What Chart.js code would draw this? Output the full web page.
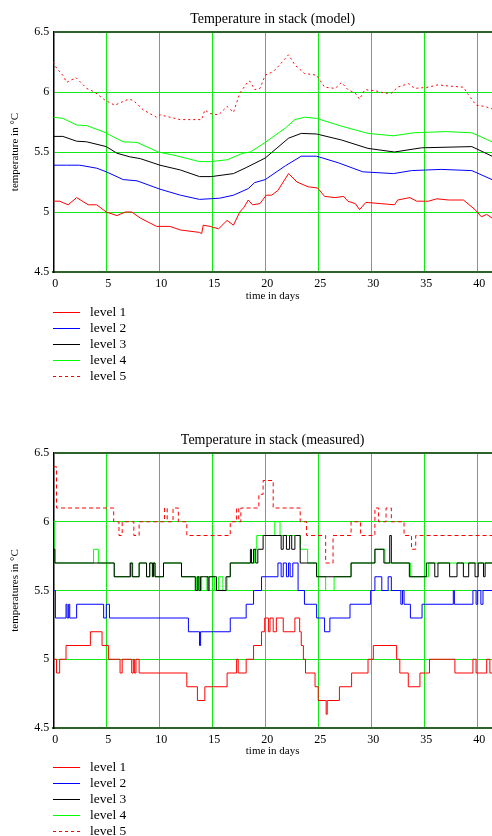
<!DOCTYPE html>
<html>
<head>
<meta charset="utf-8">
<script src="https://cdn.jsdelivr.net/npm/chart.js@4.4.1/dist/chart.umd.min.js"></script>
<style>
    body { margin: 0; background: #fff; }
    #page { position: relative; width: 492px; height: 836px; overflow: hidden; font-family: "Liberation Serif", "Times New Roman", serif; }
    #page canvas { position: absolute; left: 0; }
    .legend { position: absolute; left: 53px; font-size: 13.5px; color: #000; }
    .legend .item { position: relative; height: 16px; line-height: 16px; padding-left: 37px; white-space: nowrap; }
    .legend .sample { position: absolute; left: 0; top: 8px; width: 27px; height: 1px; }
</style>
</head>
<body>
<div id="page">
    <canvas id="modelChart" width="492" height="305" style="top:0;width:492px;height:305px"></canvas>
    <canvas id="measuredChart" width="492" height="339" style="top:421px;width:492px;height:339px"></canvas>
    <div class="legend" id="modelLegend" style="top:304px"></div>
    <div class="legend" id="measuredLegend" style="top:759px"></div>
</div>
<script>
var DAY_MAX = 41.4;
var DAY_TICKS = [0, 5, 10, 15, 20, 25, 30, 35, 40];
var TEMP_TICKS = [4.5, 5, 5.5, 6, 6.5];
var LEVEL_NAMES = ["level 1", "level 2", "level 3", "level 4", "level 5"];

// model: [day, temperature]
var model1 = [[0, 5.09], [0.6, 5.09], [1.4, 5.06], [2.2, 5.12], [3.3, 5.06], [4.1, 5.06], [5.0, 5.0], [6.0, 4.97], [6.8, 5.0], [7.4, 5.0],
    [8.2, 4.95], [9.75, 4.88], [11, 4.88], [12, 4.85], [13.8, 4.83], [14.0, 4.82], [14.15, 4.89], [14.8, 4.88], [15.6, 4.86], [16.4, 4.93],
    [17.0, 4.89], [17.6, 5.0], [18.0, 5.04], [18.4, 5.1], [18.8, 5.06], [19.5, 5.07], [20.1, 5.14], [20.6, 5.14], [21.2, 5.18], [22.2, 5.32],
    [23.0, 5.25], [24.05, 5.21], [24.95, 5.2], [25.6, 5.13], [26.6, 5.12], [27.4, 5.13], [27.8, 5.09], [28.5, 5.07], [28.9, 5.02], [29.5, 5.08],
    [30.9, 5.07], [32.2, 5.06], [32.5, 5.1], [33.65, 5.12], [34.3, 5.09], [35.4, 5.09], [36.2, 5.11], [37.3, 5.1], [38.7, 5.1], [39.8, 5.02],
    [40.4, 4.96], [40.9, 4.98], [41.4, 4.95]];
var model2 = [[0, 5.39], [1.25, 5.39], [2.5, 5.39], [4.1, 5.365], [5.0, 5.335], [6.6, 5.27], [7.9, 5.26], [10.07, 5.19], [12, 5.14], [13.8, 5.105],
    [15.7, 5.115], [17, 5.14], [18.4, 5.195], [19, 5.245], [20, 5.27], [21.9, 5.385], [23.4, 5.465], [24.85, 5.465], [26.9, 5.41], [29.2, 5.335],
    [32.1, 5.32], [33.8, 5.345], [36.6, 5.355], [39.5, 5.345], [41.4, 5.27]];
var model3 = [[0, 5.63], [0.9, 5.63], [2.2, 5.59], [3.15, 5.585], [5.0, 5.545], [6.0, 5.49], [7.2, 5.46], [8.2, 5.445], [10.07, 5.39], [12, 5.35],
    [13.8, 5.295], [14.9, 5.295], [17, 5.32], [18.2, 5.37], [20, 5.45], [22.2, 5.615], [23.4, 5.655], [24.85, 5.65], [27.2, 5.6], [29.7, 5.53],
    [32.2, 5.5], [34.75, 5.535], [39.5, 5.545], [41.4, 5.465]];
var model4 = [[0, 5.79], [0.9, 5.78], [2.2, 5.725], [3.15, 5.72], [4.7, 5.67], [6.6, 5.585], [7.9, 5.58], [9.9, 5.5], [11.3, 5.475], [12.9, 5.44],
    [13.8, 5.42], [14.8, 5.42], [16.4, 5.435], [17.9, 5.49], [18.6, 5.5], [20, 5.58], [21.9, 5.7], [22.8, 5.77], [23.7, 5.79], [24.85, 5.78],
    [27.2, 5.715], [29.7, 5.655], [32.1, 5.635], [34, 5.66], [37, 5.67], [39.5, 5.66], [41.4, 5.585]];
var model5 = [[0, 6.25], [0.3, 6.2], [0.9, 6.14], [1.26, 6.08], [2.14, 6.12], [3.15, 6.03], [3.9, 6.0], [4.9, 5.93], [5.8, 5.89], [7.1, 5.94],
    [7.55, 5.93], [8.5, 5.85], [9.75, 5.79], [10.07, 5.81], [11, 5.79], [11.95, 5.77], [12.9, 5.77], [14, 5.77], [14.3, 5.85], [14.8, 5.82],
    [15.6, 5.81], [16.4, 5.88], [17, 5.83], [17.6, 5.99], [18.4, 6.09], [18.55, 6.09], [19, 6.02], [19.5, 6.03], [20, 6.14], [20.75, 6.17],
    [21.2, 6.21], [22.2, 6.31], [22.8, 6.225], [23.7, 6.155], [24.85, 6.14], [25.6, 6.04], [26.6, 6.03], [27.2, 6.08], [27.8, 6.02], [28.5, 5.99],
    [28.9, 5.94], [29.4, 6.02], [30.4, 6.01], [31.3, 5.99], [31.9, 5.99], [32.5, 6.04], [33.5, 6.07], [34.1, 6.03], [35.4, 6.04], [36.3, 6.06],
    [37.3, 6.05], [38.7, 6.04], [39.15, 5.98], [39.9, 5.89], [40.7, 5.88], [41.4, 5.86]];

// measured: [day the reading changes, new reading]
var measured1 = [[0, 5.0], [0.3, 4.9], [0.6, 5.0], [1.2, 5.1], [3.5, 5.2], [4.6, 5.1], [5.2, 5.0], [6.3, 4.9], [6.5, 5.0], [7.4, 4.9],
    [7.55, 5.0], [7.65, 4.9], [7.8, 5.0], [8.1, 4.9], [12.6, 4.8], [13.6, 4.7], [14.3, 4.8], [16.4, 4.9], [17.3, 5.0], [17.45, 4.9],
    [18.2, 5.0], [18.9, 5.1], [19.65, 5.2], [19.95, 5.3], [20.3, 5.2], [20.45, 5.3], [20.75, 5.2], [21.05, 5.3], [21.7, 5.2], [22.8, 5.3],
    [23.25, 5.2], [23.4, 5.1], [23.6, 5.0], [23.8, 4.9], [24.7, 4.8], [25.0, 4.7], [25.75, 4.6], [25.85, 4.7], [27.0, 4.8], [28.15, 4.9],
    [29.7, 5.0], [30.2, 5.1], [32.4, 5.0], [32.7, 4.9], [33.5, 4.8], [34.6, 4.9], [35.5, 5.0], [37.9, 4.9], [39.6, 5.0], [39.9, 4.9],
    [40.9, 5.0], [41.2, 4.9], [41.4, 4.9]];
var measured2 = [[0, 5.5], [0.2, 5.3], [1.2, 5.4], [1.3, 5.3], [1.45, 5.4], [1.55, 5.3], [2.2, 5.4], [4.75, 5.3], [5.0, 5.4], [5.3, 5.3],
    [12.75, 5.2], [13.8, 5.1], [13.9, 5.2], [16.7, 5.3], [18.2, 5.4], [18.9, 5.5], [19.65, 5.6], [21.2, 5.7], [21.5, 5.6], [21.7, 5.7],
    [22.0, 5.6], [22.2, 5.7], [22.35, 5.6], [22.6, 5.7], [23.1, 5.5], [23.7, 5.4], [24.85, 5.3], [25.6, 5.2], [26.1, 5.3], [28.0, 5.4],
    [29.95, 5.5], [30.35, 5.6], [31.0, 5.5], [31.6, 5.6], [31.9, 5.5], [32.8, 5.4], [32.95, 5.5], [33.1, 5.4], [33.7, 5.3], [34.8, 5.4],
    [37.75, 5.5], [37.85, 5.4], [39.6, 5.5], [39.9, 5.4], [40.05, 5.5], [40.35, 5.4], [40.55, 5.5], [41.4, 5.5]];
var measured3 = [[0, 5.8], [0.15, 5.7], [5.75, 5.6], [7.3, 5.7], [7.45, 5.6], [8.1, 5.7], [8.8, 5.6], [9.1, 5.7], [9.35, 5.6], [9.45, 5.7],
    [9.6, 5.6], [10.4, 5.7], [12.1, 5.6], [13.4, 5.5], [13.6, 5.6], [13.75, 5.5], [13.9, 5.6], [14.6, 5.5], [14.7, 5.6], [15.4, 5.5],
    [16.3, 5.6], [16.7, 5.7], [18.6, 5.8], [18.7, 5.7], [18.9, 5.8], [19.1, 5.7], [19.3, 5.8], [19.8, 5.9], [21.5, 5.8], [21.7, 5.9],
    [22.0, 5.8], [22.3, 5.9], [22.5, 5.8], [22.8, 5.9], [23.3, 5.7], [24.85, 5.6], [28.1, 5.7], [30.35, 5.8], [31.2, 5.7], [31.75, 5.9],
    [31.9, 5.7], [33.6, 5.6], [35.2, 5.7], [36.0, 5.6], [36.3, 5.7], [37.4, 5.6], [38.1, 5.7], [38.7, 5.6], [39.2, 5.7], [39.8, 5.6],
    [40.1, 5.7], [40.6, 5.6], [40.75, 5.7], [41.4, 5.7]];
var measured4 = [[0, 6.0], [0.15, 5.7], [3.8, 5.8], [4.25, 5.7], [5.75, 5.6], [7.2, 5.7], [7.5, 5.6], [8.1, 5.7], [8.8, 5.6], [9.1, 5.7],
    [9.6, 5.6], [10.4, 5.7], [12.1, 5.6], [13.5, 5.5], [13.7, 5.6], [14.0, 5.5], [14.5, 5.6], [15.2, 5.5], [15.6, 5.6], [16.0, 5.5],
    [16.4, 5.6], [16.7, 5.7], [19.0, 5.8], [19.2, 5.9], [20.9, 6.0], [21.4, 5.9], [23.3, 5.8], [24.0, 5.7], [24.85, 5.6], [25.7, 5.5],
    [26.5, 5.6], [28.1, 5.7], [30.35, 5.8], [31.3, 5.7], [33.7, 5.6], [35.4, 5.7], [41.4, 5.7]];
var measured5 = [[0, 6.4], [0.3, 6.1], [5.7, 6.0], [6.2, 5.9], [6.5, 6.0], [7.6, 5.9], [8.1, 6.0], [10.5, 6.1], [10.75, 6.0], [11.3, 6.1],
    [11.8, 6.0], [12.6, 5.9], [16.7, 6.0], [17.3, 6.1], [17.5, 6.0], [17.7, 6.1], [19.4, 6.2], [19.8, 6.3], [20.75, 6.1], [23.3, 6.0],
    [23.9, 5.9], [25.7, 5.7], [26.4, 5.9], [28.1, 6.0], [29.0, 5.9], [30.35, 6.1], [30.7, 6.0], [31.4, 6.1], [31.9, 6.0], [33.1, 5.9],
    [33.8, 5.8], [34.2, 5.9], [41.4, 5.9]];

var LEVEL_COLORS = ["#ff0000", "#0000ff", "#000000", "#00ff00", "#ff0000"];
var GRID_GREEN = "#12e812",
    AXIS_GREEN = "#2b632b";

Chart.defaults.font.family = '"Liberation Serif", "Times New Roman", serif';
Chart.defaults.color = "#000";

function toTicks(values) {
    return values.map(function(v) {
        return { value: v };
    });
}

function plainLabel(value) {
    return String(value);
}

function buildChart(canvasId, titleText, yTitleText, series, dashes, stepped, xHeight) {
    var datasets = series.map(function(points, i) {
        return {
            label: LEVEL_NAMES[i],
            data: points.map(function(p) {
                return { x: p[0], y: p[1] };
            }),
            borderColor: LEVEL_COLORS[i],
            borderWidth: 1,
            borderDash: dashes[i],
            pointRadius: 0,
            tension: 0,
            stepped: stepped,
            fill: false
        };
    });

    return new Chart(document.getElementById(canvasId), {
        type: "line",
        data: { datasets: datasets },
        options: {
            responsive: false,
            animation: false,
            devicePixelRatio: 1,
            layout: { padding: 0 },
            plugins: {
                legend: { display: false },
                tooltip: { enabled: false },
                title: {
                    display: true,
                    text: titleText,
                    fullSize: false,
                    color: "#000",
                    font: { size: 14, weight: "normal" },
                    padding: { top: 10.6, bottom: 4.6 }
                }
            },
            scales: {
                x: {
                    type: "linear",
                    min: 0,
                    max: DAY_MAX,
                    afterBuildTicks: function(scale) {
                        scale.ticks = toTicks(DAY_TICKS);
                    },
                    afterFit: function(scale) {
                        scale.height = xHeight;
                    },
                    grid: {
                        drawTicks: false,
                        lineWidth: 1,
                        color: function(c) {
                            return c.tick && c.tick.value === 0 ? "rgba(0,0,0,0)" : GRID_GREEN;
                        }
                    },
                    border: { color: AXIS_GREEN, width: 2 },
                    ticks: { font: { size: 12 }, padding: 5, maxRotation: 0, autoSkip: false, labelOffset: 2, callback: plainLabel },
                    title: { display: true, text: "time in days", font: { size: 11 }, padding: { top: 0, bottom: 2 } }
                },
                y: {
                    min: 4.5,
                    max: 6.5,
                    afterBuildTicks: function(scale) {
                        scale.ticks = toTicks(TEMP_TICKS);
                    },
                    afterFit: function(scale) {
                        scale.width = 53.3;
                    },
                    grid: {
                        drawTicks: false,
                        lineWidth: function(c) {
                            return c.tick && c.tick.value === 6.5 ? 2 : 1;
                        },
                        color: function(c) {
                            if (!c.tick) return GRID_GREEN;
                            if (c.tick.value === 4.5) return "rgba(0,0,0,0)";
                            if (c.tick.value === 6.5) return AXIS_GREEN;
                            return GRID_GREEN;
                        }
                    },
                    border: { color: "#000", width: 1.5 },
                    ticks: { font: { size: 12 }, padding: 4, callback: plainLabel },
                    title: { display: true, text: yTitleText, font: { size: 11 }, padding: { top: 9, bottom: 0 } }
                }
            }
        }
    });
}

function buildLegend(elId, dashed) {
    var el = document.getElementById(elId);
    LEVEL_NAMES.forEach(function(name, i) {
        var item = document.createElement("div"),
            sample = document.createElement("span");
        item.className = "item";
        sample.className = "sample";
        if (dashed[i]) {
            sample.style.background = "repeating-linear-gradient(to right, " + LEVEL_COLORS[i] + " 0 3px, transparent 3px 6px)";
        } else {
            sample.style.backgroundColor = LEVEL_COLORS[i];
        }
        item.appendChild(sample);
        item.appendChild(document.createTextNode(name));
        el.appendChild(item);
    });
}

buildChart("modelChart", "Temperature in stack (model)", "temperature in \u00B0C",
    [model1, model2, model3, model4, model5], [[], [], [], [], [2, 3]], false, 33);

buildChart("measuredChart", "Temperature in stack (measured)", "temperatures in \u00B0C",
    [measured1, measured2, measured3, measured4, measured5], [[], [], [], [], [4, 3]], true, 32);

buildLegend("modelLegend", [false, false, false, false, true]);
buildLegend("measuredLegend", [false, false, false, false, true]);
</script>
</body>
</html>
